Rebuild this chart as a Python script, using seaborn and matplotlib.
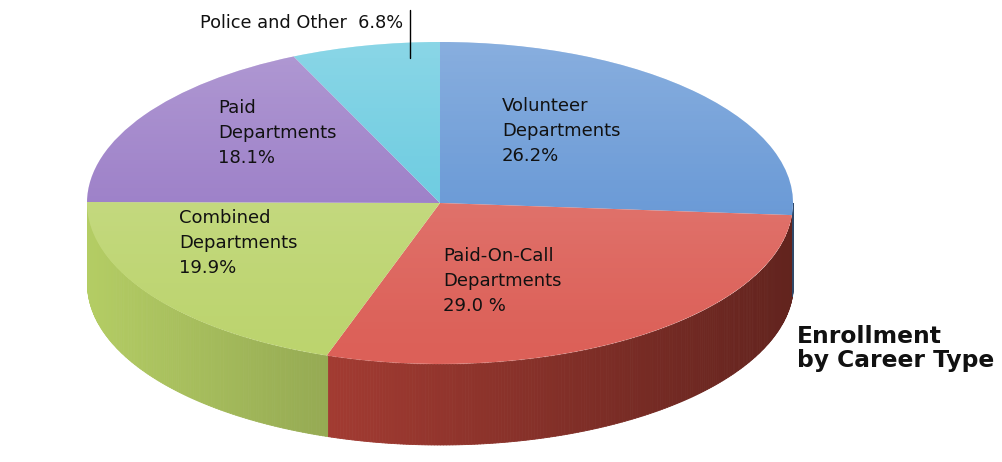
import numpy as np
import matplotlib
matplotlib.use("Agg")
import matplotlib.pyplot as plt
from matplotlib.patches import Ellipse
import seaborn as sns

# slices, clockwise from 12 o'clock
categories = ["Volunteer\nDepartments", "Paid-On-Call\nDepartments",
              "Combined\nDepartments", "Paid\nDepartments", "Police and Other"]
shares = [26.2, 29.0, 19.9, 18.1, 6.8]
share_labels = ["26.2%", "29.0 %", "19.9%", "18.1%", "6.8%"]
top_colors = ["#5a8fd2", "#dc6058", "#bcd46e", "#9272c2", "#5cc6dd"]
side_colors = ["#5f8fd0", "#c4473c", "#b4cd64", "#6f549c", "#3aa6bf"]
title_lines = ["Enrollment", "by Career Type"]

sns.set_theme(style="white")
plt.rcParams["font.family"] = ["DejaVu Sans"]

W, H = 1003, 462
CX, CY, RX, RY = 440, 203, 353, 161   # pie ellipse in pixels
DEPTH = 0.5                            # thickness in radius units


def px(x):
    return (x - CX) / RX


def py(y):
    return (CY - y) / RY


fig = plt.figure(figsize=(W / 100, H / 100), dpi=100)
ax = fig.add_axes([0, 0, 1, 1])

fracs = np.array(shares) / sum(shares)
bounds = 90 - 360 * np.concatenate([[0], np.cumsum(fracs)])

# side wall of the front half, shaded darker to the right
theta = np.linspace(-180, 0, 361)
for t0, t1 in zip(theta[:-1], theta[1:]):
    tm = (t0 + t1) / 2
    a = tm if tm > bounds[-1] else tm + 360
    i = np.searchsorted(-bounds, -a, side="right") - 1
    f = 1.0 - 0.25 * (np.cos(np.radians(tm)) + 1)
    c = np.clip(np.array(matplotlib.colors.to_rgb(side_colors[i])) * f, 0, 1)
    xs = np.cos(np.radians([t0, t1]))
    ys = np.sin(np.radians([t0, t1]))
    ax.fill_between(xs, ys - DEPTH, ys, color=c, linewidth=0.6, edgecolor=c, zorder=1)

# top face
wedges, _ = ax.pie(shares, colors=top_colors, startangle=90, counterclock=False,
                   radius=1, wedgeprops=dict(linewidth=0))
for w in wedges:
    w.set_zorder(3)

# soft highlight on the top face
grad = np.zeros((256, 2, 4))
grad[..., :3] = 1.0
grad[..., 3] = (np.linspace(0.38, 0.0, 256) ** 1.3)[:, None]
im = ax.imshow(grad, extent=[-1, 1, -1, 1], origin="upper", zorder=4,
               interpolation="bilinear")
im.set_clip_path(Ellipse((0, 0), 2, 2, transform=ax.transData))

# labels (pixel positions of the left edge / baselines)
label_pos = [(502, 111), (443, 261), (179, 223), (218, 113)]
for (lx, ly), cat, pct in zip(label_pos, categories, share_labels):
    for k, line in enumerate(cat.split("\n") + [pct]):
        ax.text(px(lx), py(ly + 25 * k), line, fontsize=13, color="#111111",
                ha="left", va="baseline", zorder=6)

ax.text(px(403), py(27.5), categories[4] + "  " + share_labels[4], fontsize=12.8,
        color="#111111", ha="right", va="baseline", zorder=6)
ax.plot([px(410), px(410)], [py(10), py(58)], color="black", lw=1, zorder=6)

for k, line in enumerate(title_lines):
    ax.text(px(797), py(343 + 24 * k), line, fontsize=16.8, fontweight="bold",
            color="#111111", ha="left", va="baseline", zorder=6)

ax.set_aspect("auto")
ax.set_xlim(px(0), px(W))
ax.set_ylim(py(H), py(0))
ax.axis("off")

fig.savefig("out.png", dpi=100)
